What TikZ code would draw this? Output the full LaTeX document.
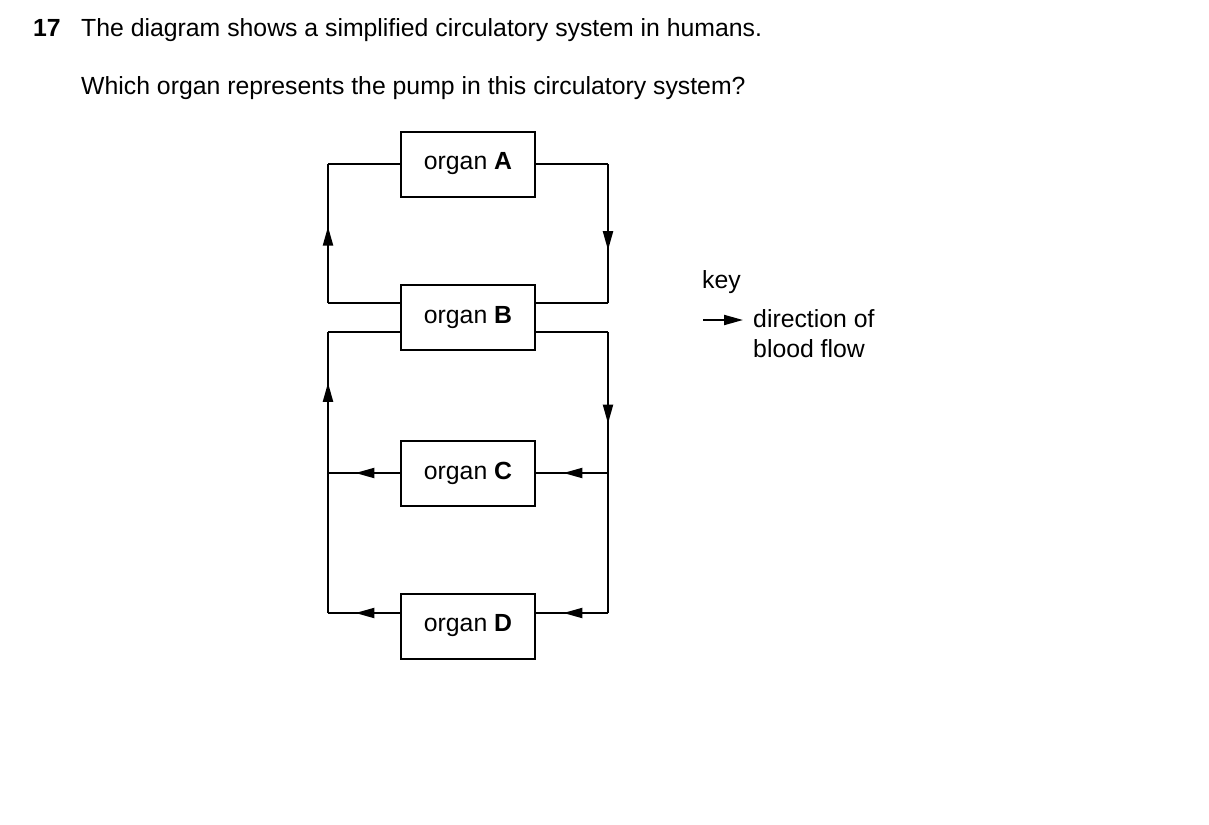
\documentclass[tikz,border=0pt]{standalone}
\usepackage{fontspec}
\setmainfont{Liberation Sans}
\usetikzlibrary{arrows.meta,decorations.markings}
\begin{document}
\begin{tikzpicture}[x=1pt,y=-1pt,
  every node/.style={font=\fontsize{24.8}{29}\selectfont},
  organ/.style={draw,line width=2pt,minimum width=134pt,minimum height=65pt,inner sep=0pt},
  ln/.style={line width=2pt},
  tip/.style={-{Triangle[length=19pt,width=10pt]}},
  mk/.style={postaction={decorate},decoration={markings,mark=at position #1 with {\arrow{Triangle[length=19pt,width=10pt]}}}}]
\useasboundingbox (0,0) rectangle (1209,824);
\node[anchor=base west,inner sep=0pt] (q) at (33,37) {\textbf{17}};
\node[anchor=base west,inner sep=0pt] (t1) at (81,37) {The diagram shows a simplified circulatory system in humans.};
\node[anchor=base west,inner sep=0pt] (t2) at (81,95) {Which organ represents the pump in this circulatory system?};
\node[organ] (A) at (468,164) {organ \textbf{A}};
\node[organ] (B) at (468,317.5) {organ \textbf{B}};
\node[organ] (C) at (468,473) {organ \textbf{C}};
\node[organ] (D) at (468,626) {organ \textbf{D}};
% top loop
\coordinate (a1) at (328,164); \coordinate (a2) at (328,303);
\coordinate (a3) at (608,164); \coordinate (a4) at (608,303);
\draw[ln] (A.west) -- (a1);
\draw[ln,mk=0.55] (a2) -- (a1);
\draw[ln] (a2) -- (B.west |- a2);
\draw[ln] (A.east) -- (a3);
\draw[ln,mk=0.62] (a3) -- (a4);
\draw[ln] (a4) -- (B.east |- a4);
% lower
\coordinate (b1) at (328,332); \coordinate (b2) at (328,613);
\coordinate (b3) at (608,332); \coordinate (b4) at (608,613);
\coordinate (c1) at (328,473); \coordinate (c3) at (608,473);
\draw[ln] (B.west |- b1) -- (b1);
\draw[ln,mk=0.64] (c1) -- (b1);
\draw[ln] (b2) -- (c1);
\draw[ln] (B.east |- b3) -- (b3);
\draw[ln,mk=0.65] (b3) -- (c3);
\draw[ln] (c3) -- (b4);
\draw[ln,mk=0.62] (c3) -- (C.east);
\draw[ln,mk=0.62] (C.west) -- (c1);
\draw[ln,mk=0.62] (b4) -- (D.east |- b4);
\draw[ln,mk=0.62] (D.west |- b2) -- (b2);
% key
\node[anchor=base west,inner sep=0pt] (key) at (702,288) {key};
\coordinate (k1) at (703,320); \coordinate (k2) at (743,320);
\draw[ln,tip] (k1) -- (k2);
\node[anchor=base west,inner sep=0pt] (d1) at (753,327) {direction of};
\node[anchor=base west,inner sep=0pt] (d2) at (753,357) {blood flow};
\end{tikzpicture}
\end{document}
